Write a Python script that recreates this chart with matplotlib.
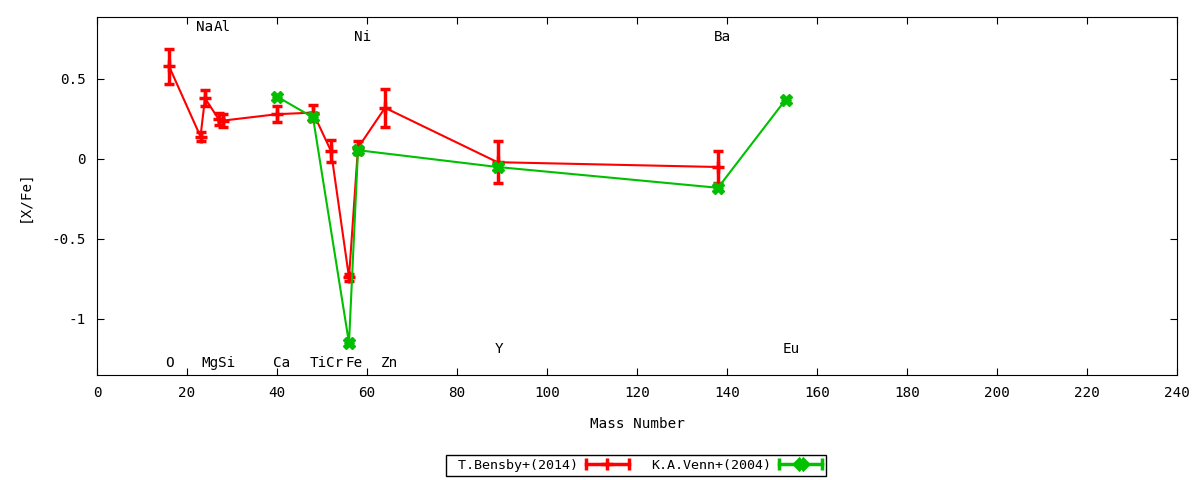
import numpy as np
import matplotlib
matplotlib.use("Agg")
import matplotlib.pyplot as plt
from matplotlib.lines import Line2D
from matplotlib.legend_handler import HandlerBase

plt.rcParams['font.family'] = ['DejaVu Sans Mono']
plt.rcParams['font.size'] = 10.3

# T.Bensby+(2014)
bensby_mass = [16, 23, 24, 27, 28, 40, 48, 52, 56, 58, 64, 89, 138]
bensby_xfe = [0.58, 0.14, 0.38, 0.25, 0.24, 0.28, 0.29, 0.05, -0.74, 0.07, 0.32, -0.02, -0.05]
bensby_err = [0.11, 0.03, 0.05, 0.04, 0.04, 0.05, 0.05, 0.07, 0.02, 0.04, 0.12, 0.13, 0.10]

# K.A.Venn+(2004)
venn_mass = [40, 48, 56, 58, 89, 138, 153]
venn_xfe = [0.39, 0.26, -1.15, 0.055, -0.05, -0.18, 0.37]
venn_err = [0, 0, 0, 0, 0, 0, 0]

# element labels
label_names = ['O', 'Na', 'Al', 'Mg', 'Si', 'Ca', 'Ti', 'Cr', 'Fe', 'Zn', 'Ni', 'Y', 'Ba', 'Eu']
label_x = [16.0, 23.9, 27.8, 25.1, 28.9, 41.1, 49.1, 52.9, 57.1, 65.1, 59.1, 89.3, 139.0, 154.2]
label_y = [-1.275, 0.825, 0.825, -1.275, -1.275, -1.275, -1.275, -1.275, -1.275, -1.275,
           0.7625, -1.1875, 0.7625, -1.1875]


class ErrSample(HandlerBase):
    # gnuplot-like sample: thick bar with end caps and the point in the middle
    def __init__(self, color, marker, ms):
        super().__init__()
        self.color, self.marker, self.ms = color, marker, ms

    def create_artists(self, legend, orig_handle, xd, yd, width, height, fontsize, trans):
        y = height / 2 - yd
        x0, x1 = -xd, width - xd
        bar = Line2D([x0, x1], [y, y], color=self.color, lw=2.5, transform=trans)
        caps = Line2D([x0, x1], [y, y], color=self.color, ls='none', marker='|',
                      ms=8, mew=2.5, transform=trans)
        pt = Line2D([(x0 + x1) / 2], [y], color=self.color, ls='none',
                    marker=self.marker, ms=self.ms, mew=2.5, transform=trans)
        return [bar, caps, pt]


fig = plt.figure(figsize=(12, 4.8), dpi=100)
ax = fig.add_axes([97 / 1200, 1 - 375 / 480, 1080 / 1200, 358 / 480])

h1 = ax.errorbar(bensby_mass, bensby_xfe, yerr=bensby_err, color='#ff0000', lw=1.5,
                 marker='+', ms=8, mew=2.5, elinewidth=2.5, capsize=3.6, capthick=2.5)
h2 = ax.errorbar(venn_mass, venn_xfe, yerr=venn_err, color='#00c000', lw=1.5,
                 marker='X', ms=8, mew=1, elinewidth=2.5, capsize=3.6, capthick=2.5)

for name, x, y in zip(label_names, label_x, label_y):
    ax.text(x, y, name, ha='center', va='center')

ax.set_xlim(0, 240)
ax.set_ylim(-1.35, 0.8875)
ax.set_xticks(np.arange(0, 241, 20))
ax.set_yticks([-1, -0.5, 0, 0.5])
ax.set_yticklabels(['-1', '-0.5', '0', '0.5'])
ax.tick_params(direction='in', top=True, right=True, length=5, pad=8)
ax.set_xlabel('Mass Number', labelpad=12)
ax.set_ylabel('[X/Fe]', labelpad=14)

fig.legend([h1, h2], [' T.Bensby+(2014)', 'K.A.Venn+(2004)'],
           handler_map={h1: ErrSample('#ff0000', '+', 8), h2: ErrSample('#00c000', 'X', 7)},
           loc='center', bbox_to_anchor=(636 / 1200, 1 - 465 / 480), ncol=2,
           markerfirst=False, fancybox=False, edgecolor='black', framealpha=1,
           fontsize=9.6, borderpad=0.3, handlelength=3.2, columnspacing=1.7,
           handletextpad=0.6)

fig.savefig('out.png', dpi=100)
